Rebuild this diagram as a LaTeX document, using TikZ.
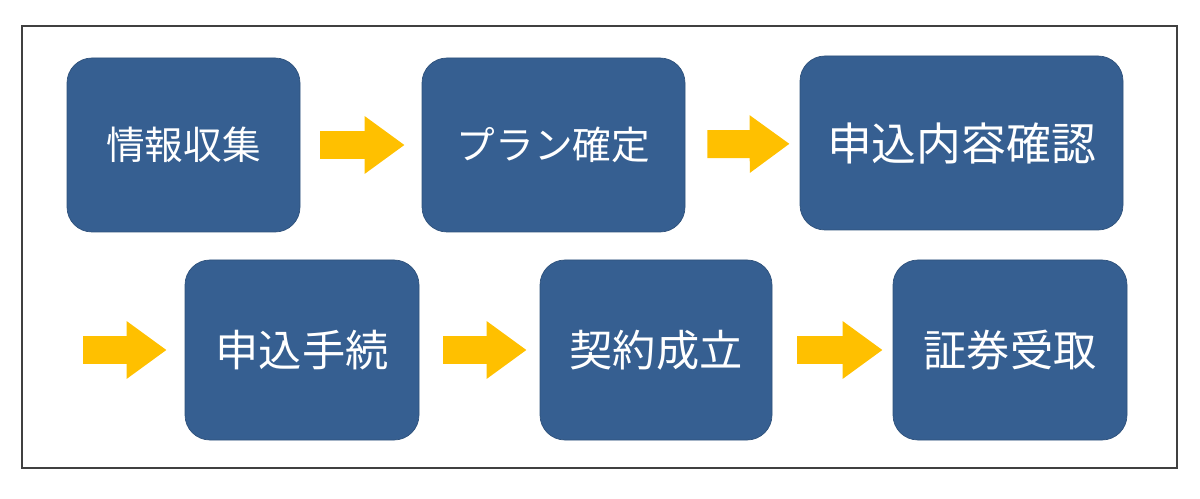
\documentclass[tikz,border=0pt]{standalone}
\usepackage{fontspec}
\usepackage{tikz}
\usepackage{xcolor}
\usetikzlibrary{arrows.meta,positioning}
\newfontfamily\jpfont{Noto Sans CJK JP}
\definecolor{stepblue}{RGB}{54,95,145}
\definecolor{flowgold}{RGB}{255,192,0}
\definecolor{framegray}{RGB}{64,64,64}

\tikzset{
  stepbox/.style={draw=stepblue!85!black, line width=0.4pt, fill=stepblue, rounded corners=0.5cm,
    text=white, font=\jpfont\fontsize{22}{26}\selectfont, inner sep=0pt},
  bigtext/.style={font=\jpfont\fontsize{24.6}{28}\selectfont},
  flow/.style={draw=flowgold, line width=0.56cm, -{Triangle[length=0.8cm, width=1.1cm]}, flowgold}
}

\begin{document}
\begin{tikzpicture}
      \useasboundingbox (0,0) rectangle (24,9.96);
      \draw[framegray, line width=0.6pt] (0.44,0.6) rectangle (23.54,9.44);
      % first row
      \node[stepbox, minimum width=4.66cm, minimum height=3.48cm] (info) at (3.67,7.06) {情報収集};
      \node[stepbox, minimum width=5.26cm, minimum height=3.48cm] (plan) at (11.07,7.06) {プラン確定};
      \node[stepbox, font=\jpfont\fontsize{25.5}{29}\selectfont, minimum width=6.46cm, minimum height=3.48cm] (check) at (19.23,7.1) {申込内容確認};
      % second row
      \coordinate (start) at (1.66,2.96);
      \node[stepbox, bigtext, minimum width=4.68cm, minimum height=3.6cm] (apply) at (6.04,2.96) {申込手続};
      \node[stepbox, bigtext, minimum width=4.64cm, minimum height=3.6cm] (contract) at (13.12,2.96) {契約成立};
      \node[stepbox, bigtext, minimum width=4.68cm, minimum height=3.6cm] (policy) at (20.2,2.96) {証券受取};
      \draw[flow, shorten <=0.4cm, shorten >=0.34cm] (info) -- (plan);
      \draw[flow, shorten <=0.44cm, shorten >=0.2cm] (plan) -- (check);
      \draw[flow, shorten >=0.36cm] (start) -- (apply);
      \draw[flow, shorten <=0.48cm, shorten >=0.26cm] (apply) -- (contract);
      \draw[flow, shorten <=0.5cm, shorten >=0.2cm] (contract) -- (policy);
    \end{tikzpicture}
\end{document}
